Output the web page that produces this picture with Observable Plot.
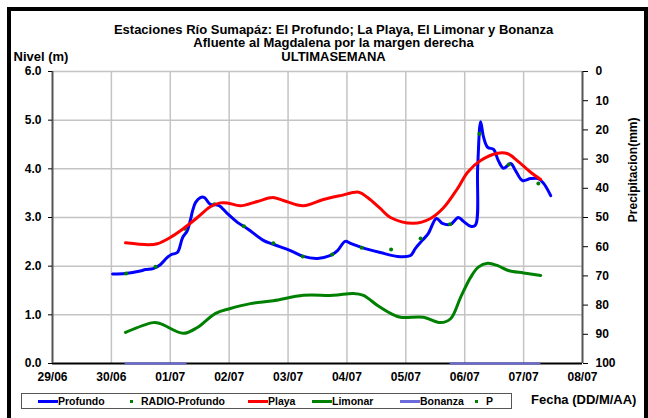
<!DOCTYPE html>
<html>
<head>
<meta charset="utf-8">
<script src="https://cdn.jsdelivr.net/npm/d3@7"></script>
<script src="https://cdn.jsdelivr.net/npm/@observablehq/plot@0.6"></script>
<style>
  html, body { margin: 0; padding: 0; background: #fff; }
  #wrap { position: relative; width: 648px; height: 418px; overflow: hidden; background: #fff;
          font-family: "Liberation Sans", Arial, sans-serif; font-weight: bold; }
  #frame { position: absolute; left: 7px; top: 7px; width: 641px; height: 430px; box-sizing: border-box;
           border: 4px solid #000; }
  #chart { position: absolute; left: 0; top: 0; }
  #legend { position: absolute; left: 21px; top: 393px; width: 491px; height: 16px; box-sizing: border-box;
            border: 1px solid #555; background: #fff; font-size: 10.5px; }
  .item { position: absolute; top: 0; height: 14px; line-height: 14px; white-space: nowrap; }
  .sw { display: inline-block; vertical-align: middle; width: 20px; height: 3px; margin-top: -2px; }
  .dt { display: inline-block; vertical-align: middle; width: 3px; height: 3px; background: #008000; margin: -2px 8px 0 0; }
  #fecha { position: absolute; left: 531px; top: 392px; font-size: 13px; white-space: nowrap; }
</style>
</head>
<body>
<div id="wrap">
  <div id="frame"></div>
  <div id="chart"></div>
  <div id="legend"></div>
  <div id="fecha">Fecha (DD/M/AA)</div>
</div>
<script>
// ---- data (days since 29/06 00:00) ----
const dateLabels = ["29/06","30/06","01/07","02/07","03/07","04/07","05/07","06/07","07/07","08/07"];
const dayIdx = [0,1,2,3,4,5,6,7,8,9];
const levelTicks = [0,1,2,3,4,5,6];
const precipTicks = [0,10,20,30,40,50,60,70,80,90,100];

const profundoDay = [1.02,1.24,1.49,1.58,1.71,1.83,1.95,2.02,2.12,2.21,2.29,2.34,2.38,2.43,2.51,2.58,2.68,2.82,2.97,3.14,3.31,3.58,3.75,4.04,4.26,4.50,4.72,4.84,4.97,5.06,5.26,5.57,5.86,6.08,6.16,6.28,6.38,6.52,6.62,6.76,6.89,6.98,7.10,7.18,7.22,7.27,7.32,7.39,7.49,7.57,7.66,7.78,7.86,7.98,8.12,8.25,8.34,8.46];
const profundoLevel = [1.84,1.85,1.90,1.93,1.95,2.03,2.18,2.24,2.28,2.59,2.73,2.94,3.14,3.31,3.41,3.41,3.27,3.25,3.08,2.90,2.77,2.53,2.45,2.32,2.20,2.16,2.22,2.32,2.51,2.47,2.38,2.28,2.20,2.22,2.36,2.53,2.67,2.98,2.88,2.86,3.00,2.92,2.82,2.84,4.03,4.97,4.65,4.44,4.40,4.17,4.01,4.11,3.97,3.76,3.80,3.80,3.70,3.45];

const radioDay = [1.25,1.75,2.25,2.75,3.25,3.75,4.25,4.75,5.25,5.75,6.25,6.75,7.25,7.75,8.25];
const radioLevel = [1.85,1.99,2.77,3.27,2.82,2.47,2.20,2.24,2.38,2.34,2.57,2.86,4.72,4.09,3.70];

const playaDay = [1.24,1.63,1.78,2.00,2.22,2.46,2.68,2.85,2.97,3.19,3.48,3.74,3.92,4.26,4.60,4.89,5.20,5.35,5.57,5.74,6.13,6.42,6.64,6.88,7.05,7.27,7.56,7.73,7.89,8.12,8.29];
const playaLevel = [2.48,2.44,2.46,2.59,2.77,3.00,3.22,3.30,3.30,3.24,3.33,3.41,3.35,3.24,3.37,3.45,3.52,3.41,3.18,3.00,2.88,2.98,3.20,3.60,3.93,4.17,4.32,4.31,4.17,3.93,3.78];

const limonarDay = [1.24,1.71,1.83,2.22,2.46,2.77,3.02,3.36,3.75,4.26,4.77,5.11,5.28,5.52,5.74,5.91,6.30,6.59,6.76,6.93,7.10,7.23,7.39,7.56,7.74,8.00,8.29];
const limonarLevel = [0.64,0.84,0.82,0.62,0.74,1.03,1.13,1.23,1.29,1.40,1.40,1.44,1.40,1.19,1.03,0.95,0.95,0.84,0.92,1.36,1.77,1.98,2.06,2.01,1.91,1.86,1.81];

const bonanzaDay = [1.24,2.26,4.50,6.76,8.27];
const bonanzaLevel = [0,0,NaN,0,0];

const precipDay = [];   // P: no precipitation visible
const precipMM = [];

const titleLines = [
  "Estaciones Río Sumapáz: El Profundo; La Playa, El Limonar y Bonanza",
  "Afluente al Magdalena por la margen derecha",
  "ULTIMASEMANA"
];

const legendNames = ["Profundo","RADIO-Profundo","Playa","Limonar","Bonanza","P"];
const legendColors = ["#0000ff","#008000","#ff0000","#008000","#6b6bdc","#008000"];
const legendKinds = ["line","dot","line","line","line","dot"];

// ---- tables ----
const zip = (xs, ys) => xs.map((x, i) => ({x, y: ys[i]}));
const profundo = zip(profundoDay, profundoLevel);
const radio = zip(radioDay, radioLevel);
const playa = zip(playaDay, playaLevel);
const limonar = zip(limonarDay, limonarLevel);
const bonanza = zip(bonanzaDay, bonanzaLevel);
const precip = precipDay.map((x, i) => ({x, y: 6 - precipMM[i] * 0.06}));

const grid = "#c4c4c4";

const chart = Plot.plot({
  width: 648,
  height: 390,
  marginLeft: 52,
  marginRight: 66,
  marginTop: 71,
  marginBottom: 27,
  x: {domain: [0, 9]},
  y: {domain: [0, 6]},
  style: {fontFamily: "'Liberation Sans', Arial, sans-serif", fontSize: "12px", fontWeight: "bold", background: "transparent", color: "#000"},
  marks: [
    Plot.ruleX(dayIdx.slice(1, 9), {stroke: grid, strokeWidth: 1.5}),
    Plot.ruleY(levelTicks.slice(1), {stroke: grid, strokeWidth: 1.5}),
    Plot.ruleY([0], {stroke: "#000", strokeWidth: 2}),
    Plot.line(profundo, {x: "x", y: "y", stroke: "#0000ff", strokeWidth: 3, curve: "catmull-rom"}),
    Plot.dot(radio, {x: "x", y: "y", r: 2, fill: "#008000", stroke: "none"}),
    Plot.line(playa, {x: "x", y: "y", stroke: "#ff0000", strokeWidth: 3, curve: "catmull-rom"}),
    Plot.line(limonar, {x: "x", y: "y", stroke: "#008000", strokeWidth: 3, curve: "catmull-rom"}),
    Plot.line(bonanza, {x: "x", y: "y", stroke: "#6b6bdc", strokeWidth: 2}),
    Plot.dot(precip, {x: "x", y: "y", r: 2, fill: "#008000", stroke: "none"}),
    Plot.ruleX([0], {stroke: "#555", strokeWidth: 2}),
    Plot.ruleX([9], {stroke: "#555", strokeWidth: 2}),
    Plot.axisX({ticks: dayIdx, tickFormat: i => dateLabels[i], tickSize: 0, tickPadding: 9, label: null}),
    Plot.axisY({anchor: "left", ticks: levelTicks, tickFormat: d3.format(".1f"), tickSize: 4, tickPadding: 7, label: null}),
    Plot.axisY({anchor: "right", ticks: precipTicks.map(p => 6 - p * 0.06), tickFormat: v => String(Math.round((6 - v) / 0.06)), tickSize: 5, tickPadding: 8, label: null}),
    Plot.text([titleLines[0]], {frameAnchor: "top", dx: 16, dy: -47, fontSize: 13, fontWeight: "bold"}),
    Plot.text([titleLines[1]], {frameAnchor: "top", dx: 16, dy: -33.5, fontSize: 13, fontWeight: "bold"}),
    Plot.text([titleLines[2]], {frameAnchor: "top", dx: 16, dy: -20, fontSize: 13, fontWeight: "bold"}),
    Plot.text(["Nivel (m)"], {frameAnchor: "top-left", dx: -39, dy: -20, textAnchor: "start", fontSize: 13, fontWeight: "bold"}),
    Plot.text(["Precipitacion(mm)"], {frameAnchor: "top-right", dx: 46, dy: 46, rotate: -90, fontSize: 12, fontWeight: "bold"})
  ]
});
document.getElementById("chart").appendChild(chart);

// ---- legend ----
const legendLeft = [16, 108, 226, 290, 378, 453];
const legend = document.getElementById("legend");
legendNames.forEach((name, i) => {
  const it = document.createElement("div");
  it.className = "item";
  it.style.left = legendLeft[i] + "px";
  const sw = document.createElement("span");
  if (legendKinds[i] === "line") {
    sw.className = "sw";
    sw.style.background = legendColors[i];
  } else {
    sw.className = "dt";
    sw.style.background = legendColors[i];
  }
  it.appendChild(sw);
  it.appendChild(document.createTextNode(name));
  legend.appendChild(it);
});
</script>
</body>
</html>
